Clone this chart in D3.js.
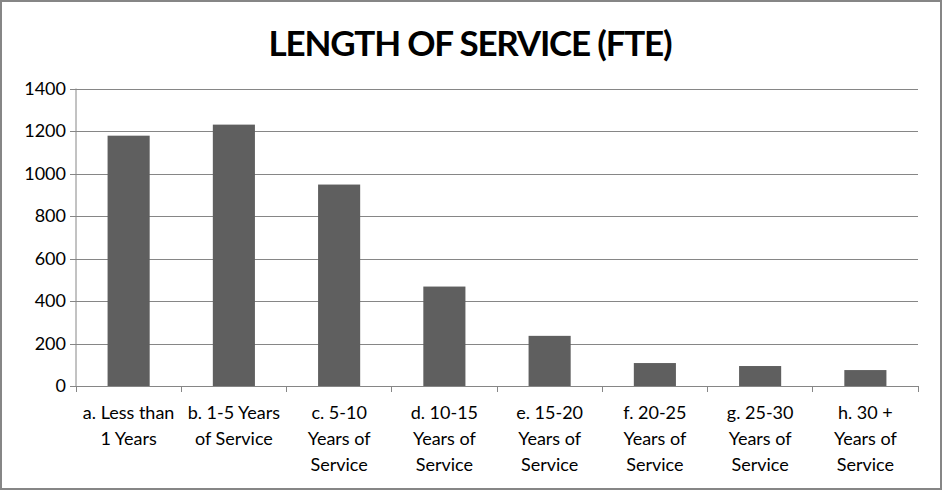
<!DOCTYPE html>
<html><head><meta charset="utf-8">
<script src="https://cdn.jsdelivr.net/npm/d3@7"></script>
<style>body{margin:0;background:#fff}svg{display:block}</style>
</head><body>
<script>
const categories = [
  ["a. Less than", "1 Years"],
  ["b. 1-5 Years", "of Service"],
  ["c. 5-10", "Years of", "Service"],
  ["d. 10-15", "Years of", "Service"],
  ["e. 15-20", "Years of", "Service"],
  ["f. 20-25", "Years of", "Service"],
  ["g. 25-30", "Years of", "Service"],
  ["h. 30 +", "Years of", "Service"]
];
const values = [1178, 1230, 948, 468, 236, 108, 94, 75];
const yTicks = [0, 200, 400, 600, 800, 1000, 1200, 1400];
const title = "LENGTH OF SERVICE (FTE)";

(function () {
const W = 942, H = 490;
const svg = d3.select("body").append("svg").attr("width", W).attr("height", H);
svg.append("rect").attr("x", 1).attr("y", 1).attr("width", W - 2).attr("height", H - 2)
  .attr("fill", "#fff").attr("stroke", "#868686").attr("stroke-width", 2);

const pL = 76, pR = 918, pT = 88.5, pB = 386;
const x = d3.scaleBand().domain(d3.range(categories.length)).range([pL, pR]).paddingInner(0.6).paddingOuter(0.3);
const xb = d3.scaleBand().domain(d3.range(categories.length)).range([pL, pR]);
const y = d3.scaleLinear().domain([0, 1400]).range([pB, pT]);

const font = "Lato, Calibri, 'Open Sans', sans-serif";

svg.append("text").attr("x", 470).attr("y", 56).attr("text-anchor", "middle")
  .attr("font-family", font).attr("font-weight", "bold").attr("font-size", 35)
  .attr("letter-spacing", -1.2)
  .attr("fill", "#000").text(title);

const yAxis = d3.axisLeft(y).tickValues(yTicks).tickFormat(d3.format("d")).tickSize(6).tickPadding(4);
const gy = svg.append("g").attr("transform", `translate(${pL},0)`).call(yAxis);
gy.select(".domain").attr("stroke", "#868686").attr("d", `M0,${pT}V${pB}`);
gy.selectAll(".tick line").attr("stroke", "#868686").attr("x1", -6).attr("x2", pR - pL)
  .attr("shape-rendering", "crispEdges");
gy.selectAll(".tick text").attr("font-family", font).attr("font-size", 18).attr("fill", "#000");

svg.selectAll("rect.bar").data(values).enter().append("rect").attr("class", "bar")
  .attr("x", (d, i) => x(i)).attr("width", x.bandwidth())
  .attr("y", d => y(d)).attr("height", d => pB - y(d)).attr("fill", "#5f5f5f");

const gx = svg.append("g").attr("transform", `translate(0,${pB})`);
gx.append("line").attr("x1", pL).attr("x2", pR).attr("stroke", "#868686").attr("shape-rendering", "crispEdges");
const bounds = d3.range(categories.length + 1).map(i => i < categories.length ? xb(i) : pR);
gx.selectAll("line.tk").data(bounds).enter().append("line").attr("class", "tk")
  .attr("x1", d => d).attr("x2", d => d).attr("y1", 0).attr("y2", 6)
  .attr("stroke", "#868686").attr("shape-rendering", "crispEdges");
categories.forEach((lines, i) => {
  const t = gx.append("text").attr("text-anchor", "middle").attr("font-family", font)
    .attr("font-size", 18).attr("fill", "#000");
  lines.forEach((ln, j) => t.append("tspan").attr("x", xb(i) + xb.bandwidth() / 2).attr("y", 33 + j * 26).text(ln));
});
})();
</script>
</body></html>
